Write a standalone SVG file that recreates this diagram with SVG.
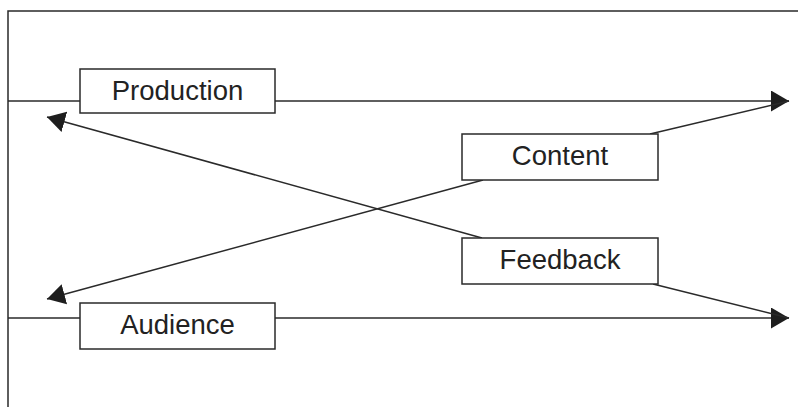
<svg xmlns="http://www.w3.org/2000/svg" width="798" height="407" viewBox="0 0 798 407">
<defs>
<style>
.box{fill:#fff;stroke:#2a2a2a;stroke-width:1.5}
.ln{fill:none;stroke:#2a2a2a;stroke-width:1.5}
.lbl{font-family:"Liberation Sans",Arial,sans-serif;font-size:27.5px;fill:#222;text-anchor:middle}
</style>
<marker id="ah" markerUnits="userSpaceOnUse" markerWidth="20" markerHeight="22" refX="18" refY="10.5" orient="auto" viewBox="0 0 20 22">
<path d="M0,0 L18,10.5 L0,21 z" fill="#1e1e1e"/>
</marker>
</defs>
<rect width="798" height="407" fill="#fff"/>
<g id="frame">
<path class="ln" d="M798,11 H8 V407"/>
</g>
<g id="connectors">
<path class="ln" d="M8,101 H80"/>
<path class="ln" d="M275,101 H789" marker-end="url(#ah)"/>
<path class="ln" d="M650,134 L789,101"/>
<path class="ln" d="M8,318 H80"/>
<path class="ln" d="M275,318 H789" marker-end="url(#ah)"/>
<path class="ln" d="M653,284 L789,318"/>
<path class="ln" d="M483,180 L47,299" marker-end="url(#ah)"/>
<path class="ln" d="M482,238 L47,117" marker-end="url(#ah)"/>
</g>
<g id="production">
<rect class="box" x="80" y="69" width="195" height="44"/>
<text class="lbl" x="177.5" y="100">Production</text>
</g>
<g id="content">
<rect class="box" x="462" y="134" width="196" height="46"/>
<text class="lbl" x="560" y="165">Content</text>
</g>
<g id="feedback">
<rect class="box" x="462" y="238" width="196" height="46"/>
<text class="lbl" x="560" y="269">Feedback</text>
</g>
<g id="audience">
<rect class="box" x="80" y="303" width="195" height="46"/>
<text class="lbl" x="177.5" y="334">Audience</text>
</g>
</svg>
